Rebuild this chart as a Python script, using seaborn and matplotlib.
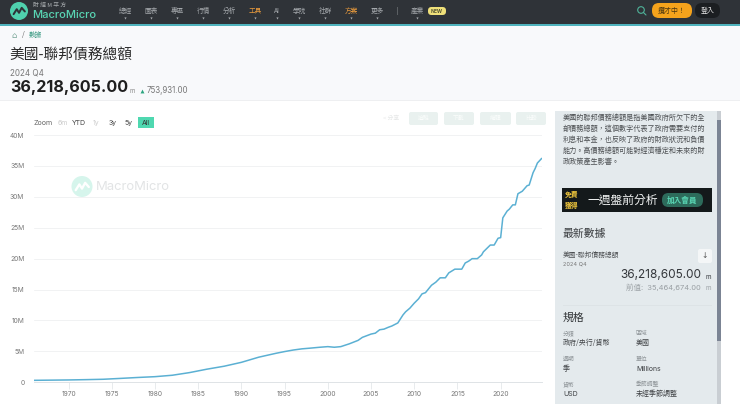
import matplotlib
matplotlib.use("Agg")
import matplotlib.pyplot as plt
from matplotlib.patches import Circle, FancyBboxPatch, Rectangle
import pandas as pd
import seaborn as sns

# ─── data ────────────────────────────────────────────────
years = [1966, 1968, 1970, 1972, 1974, 1976, 1978, 1980, 1982, 1984, 1986, 1988,
         1990, 1992, 1994, 1995, 1996, 1997, 1998, 1999, 2000, 2000.75, 2001.5,
         2002.5, 2003.5, 2004, 2005, 2005.5, 2006, 2006.5, 2007, 2007.4, 2008.1,
         2008.7, 2009, 2009.5, 2010, 2010.5, 2010.9, 2011.3, 2012, 2012.5,
         2013, 2013.6, 2014, 2014.7, 2015.5, 2015.9, 2016.3, 2016.7, 2017.3, 2017.8,
         2018, 2018.8, 2019.25, 2019.7, 2020, 2020.25, 2020.75, 2021, 2021.4,
         2021.7, 2022, 2022.5, 2023.06, 2023.3, 2023.75, 2024, 2024.25, 2024.75]
debt_m = [320000, 350000, 380000, 430000, 490000, 630000, 780000, 910000, 1140000,
          1570000, 2120000, 2600000, 3230000, 4060000, 4690000, 4970000, 5220000,
          5410000, 5530000, 5660000, 5770000, 5670000, 5770000, 6230000, 6780000,
          7270000, 7800000, 7950000, 8500000, 8600000, 8900000, 9100000, 9600000,
          10900000, 11400000, 12000000, 12800000, 13500000, 14300000, 14500000,
          15700000, 16200000, 16900000, 16900000, 17700000, 18300000, 18300000,
          19300000, 19600000, 20000000, 20000000, 20600000, 21100000, 22200000,
          22200000, 23300000, 23400000, 26600000, 27700000, 28000000, 28700000,
          28700000, 30500000, 30900000, 31800000, 31900000, 33900000, 34600000,
          35464674, 36218605]

y_ticks = [0, 5e6, 10e6, 15e6, 20e6, 25e6, 30e6, 35e6, 40e6]
y_labels = ["0", "5M", "10M", "15M", "20M", "25M", "30M", "35M", "40M"]
x_ticks = list(range(1970, 2025, 5))

nav_labels = ["總經", "圖表", "專區", "行情", "分析", "工具", "AI", "學院", "社群", "方案", "更多", "產業"]
nav_pos = [125, 151, 177, 203, 229, 255, 277, 299, 325, 351, 377, 417]
nav_orange = ["工具", "方案"]

range_labels = ["Zoom", "6m", "YTD", "1y", "3y", "5y", "All"]
range_pos = [43, 63, 79, 96, 113, 129, 146]
range_colors = ["#666666", "#cccccc", "#444444", "#cccccc", "#444444", "#444444", "#333333"]

intro_lines = ["美國的聯邦債務總額是指美國政府所欠下的全",
               "部債務總額，這個數字代表了政府需要支付的",
               "利息和本金，也反映了政府的財政狀況和負債",
               "能力。高債務總額可能對經濟穩定和未來的財",
               "政政策產生影響。"]

spec_keys = ["分類", "區域", "週期", "單位", "貨幣", "季節調整"]
spec_vals = ["政府/央行/貨幣", "美國", "季", "Millions", "USD", "未經季節調整"]
spec_x = [563, 636, 563, 636, 563, 636]
spec_y = [333, 333, 359, 359, 384, 384]

# ─── figure ──────────────────────────────────────────────
sns.set_theme(style="white")
plt.rcParams["font.family"] = ["Noto Sans CJK TC", "DejaVu Sans"]
LATIN = ["Inter", "Noto Sans CJK TC", "DejaVu Sans"]

fig = plt.figure(figsize=(7.4, 4.12), dpi=100, facecolor="white")

# page furniture is laid out in screen pixels
page = fig.add_axes([0, 0, 1, 1])
page.set_xlim(0, 740)
page.set_ylim(412, 0)
page.axis("off")


def rect(x0, y0, x1, y1, color, **kw):
    page.add_patch(Rectangle((x0, y0), x1 - x0, y1 - y0, facecolor=color, edgecolor="none", **kw))


def pill(x0, y0, x1, y1, color, r=6, **kw):
    page.add_patch(FancyBboxPatch((x0 + r, y0 + r), x1 - x0 - 2 * r, y1 - y0 - 2 * r,
                                  boxstyle=f"round,pad={r}", facecolor=color,
                                  edgecolor="none", **kw))


def txt(x, y, s, size=5.2, color="#444444", ha="left", weight="normal", family=None, **kw):
    page.text(x, y, s, fontsize=size, color=color, ha=ha, va="center", fontweight=weight,
              family=family or plt.rcParams["font.family"], **kw)


def logo(cx, cy, r, color, line, alpha=1.0):
    page.add_patch(Circle((cx, cy), r, facecolor=color, edgecolor="none", alpha=alpha))
    page.plot([cx - r * .6, cx - r * .25, cx, cx + r * .3, cx + r * .65],
              [cy + r * .35, cy - r * .2, cy + r * .2, cy - r * .35, cy + r * .05],
              color=line, lw=r * .16, alpha=alpha)


# ── top bar ──
rect(0, 0, 740, 24, "#2f3338")
rect(0, 24, 740, 26, "#4fb3bd")
rect(0, 26, 740, 100, "#f8f9fb")
rect(0, 100, 740, 101, "#eeeff1")

logo(19, 11, 9, "#4fd1ae", "#2f3338")
txt(33, 5.5, "財 經 M 平 方", size=4.2, color="#a9adb0")
txt(32, 15, "MacroMicro", size=8, color="#59d6b4", weight="medium", family=LATIN)

for label, x in zip(nav_labels, nav_pos):
    c = "#e89a3c" if label in nav_orange else "#a5a9ad"
    txt(x, 10.5, label, size=4.8, color=c, ha="center")
    page.plot([x], [17.5], marker="v", ms=1.6, color="#a5a9ad", mew=0)
txt(397, 10.5, "|", size=4.8, color="#a5a9ad", ha="center")
pill(428, 7, 446, 15, "#efe07a", r=3.5)
txt(437, 11, "NEW", size=3.6, color="#555533", ha="center", weight="bold", family=LATIN)

page.add_patch(Circle((641, 10), 3.3, facecolor="none", edgecolor="#4fb39a", lw=0.8))
page.plot([643.5, 646], [12.5, 15], color="#4fb39a", lw=0.8)
pill(652, 3, 692, 18, "#f5a31c", r=7)
txt(672, 10.5, "攬才中！", size=5, color="#4a3510", ha="center")
pill(695, 3, 720, 18, "#1b1e21", r=7)
txt(707.5, 10.5, "登入", size=5, color="#e8e8e8", ha="center", weight="medium")

# ── header ──
txt(14, 35, "⌂", size=6, color="#77a596", ha="center", family=["DejaVu Sans"])
txt(23, 35, "/", size=5, color="#666666", ha="center")
txt(29, 35, "數據", size=4.8, color="#3f9d86")
txt(9.5, 55, "美國-聯邦債務總額", size=10.6, color="#2b2b2b")
txt(10, 72.5, "2024 Q4", size=5.8, color="#777777", family=LATIN)
txt(10, 87.5, "36,218,605.00", size=11.6, color="#1f1f1f", weight="bold", family=LATIN)
txt(130, 91, "m", size=4.4, color="#888888", family=LATIN)
page.plot([142], [90.5], marker="^", ms=2.8, color="#2aa57f", mew=0)
txt(146.5, 90.5, "753,931.00", size=5.7, color="#777777", family=LATIN)

# ── chart toolbar ──
for label, x, c in zip(range_labels, range_pos, range_colors):
    if label == "All":
        rect(138, 117, 154, 128, "#4fd8b0")
    txt(x, 122.5, label, size=5, color=c, ha="center", family=LATIN)

txt(391, 118.5, "< 分享", size=4.2, color="#e6e8e8", ha="center")
for x0, x1, label in zip([409, 444, 480, 516], [438, 474, 511, 546], ["追蹤", "下載", "編輯", "比較"]):
    pill(x0, 112, x1, 125, "#e9f1ef", r=2)
    txt((x0 + x1) / 2, 118.5, label, size=4.2, color="#fbfdfc", ha="center")

# watermark
logo(82, 186.5, 10.5, "#d6f5ec", "#ffffff")
txt(96, 186.5, "MacroMicro", size=9.4, color="#e2e4e5", family=LATIN)

# ── sidebar ──
rect(555, 111, 721, 404, "#e4eaed")
rect(717, 111, 721, 404, "#c9ced3")
rect(717, 120, 721, 341, "#7b8494")
for i, line in enumerate(intro_lines):
    txt(563, 118 + i * 11, line, size=5.15, color="#4c4f52")

rect(562, 188, 712, 212, "#14191b")
txt(572, 194.5, "免費", size=4.9, color="#f0c63c", ha="center", weight="bold")
txt(572, 205, "獲得", size=4.9, color="#f0c63c", ha="center", weight="bold")
txt(588, 200, "一週盤前分析", size=8.5, color="#f2f4f4", weight="medium")
pill(662, 193, 703, 207, "#2d6b5b", r=6.5)
txt(682.5, 200, "加入會員", size=5.5, color="#59d6b4", ha="center", weight="bold")

txt(563, 234, "最新數據", size=7.8, color="#3a3d40", weight="medium")
txt(563, 255, "美國-聯邦債務總額", size=4.9, color="#4c4f52")
txt(563, 264, "2024 Q4", size=4, color="#777777", family=LATIN)
pill(698, 249, 712, 263, "#f4f6f7", r=2)
txt(705, 256, "↓", size=5.5, color="#555555", ha="center", family=["DejaVu Sans"])
txt(701, 275.5, "36,218,605.00", size=8.5, color="#33363a", ha="right", family=LATIN)
txt(708, 277, "m", size=4.6, color="#33363a", ha="center", family=LATIN)
txt(701, 287.5, "前值:  35,464,674.00", size=5.4, color="#9aa0a4", ha="right", family=LATIN)
txt(708, 287.5, "m", size=4.6, color="#9aa0a4", ha="center", family=LATIN)
rect(563, 305, 712, 305.7, "#dde3e6")
txt(563, 318, "規格", size=7.8, color="#2f3235", weight="medium")
for key, val, x, y in zip(spec_keys, spec_vals, spec_x, spec_y):
    txt(x, y, key, size=4.2, color="#8f9599")
    txt(x, y + 10, val, size=5, color="#3f4245", family=LATIN if val in ("USD", "Millions") else None)

# ─── chart ───────────────────────────────────────────────
ax = fig.add_axes([34 / 740, 1 - 382.3 / 412, (541.7 - 34) / 740, (382.3 - 135) / 412])
ax.patch.set_alpha(0)
df = pd.DataFrame({"year": years, "debt": debt_m})
sns.lineplot(data=df, x="year", y="debt", ax=ax, color="#5bb0d3", lw=1.1, estimator=None, errorbar=None)
ax.set_xlim(1966, 2024.75)
ax.set_ylim(0, 40e6)
ax.set_xlabel("")
ax.set_ylabel("")
ax.set_yticks(y_ticks, y_labels)
ax.set_xticks(x_ticks, [str(t) for t in x_ticks])
ax.grid(axis="y", color="#f1f2f3", lw=0.7)
ax.set_axisbelow(True)
ax.tick_params(axis="y", length=0, labelsize=4.8, labelcolor="#777777", pad=7)
ax.tick_params(axis="x", length=5, width=0.5, color="#dfe3e6", labelsize=4.8, labelcolor="#777777", pad=1.5, bottom=True)
for name, spine in ax.spines.items():
    spine.set_visible(name == "bottom")
ax.spines["bottom"].set_color("#dfe3e6")
ax.spines["bottom"].set_linewidth(0.7)
for label in ax.get_xticklabels() + ax.get_yticklabels():
    label.set_family(LATIN)

fig.savefig("out.png", dpi=100)
